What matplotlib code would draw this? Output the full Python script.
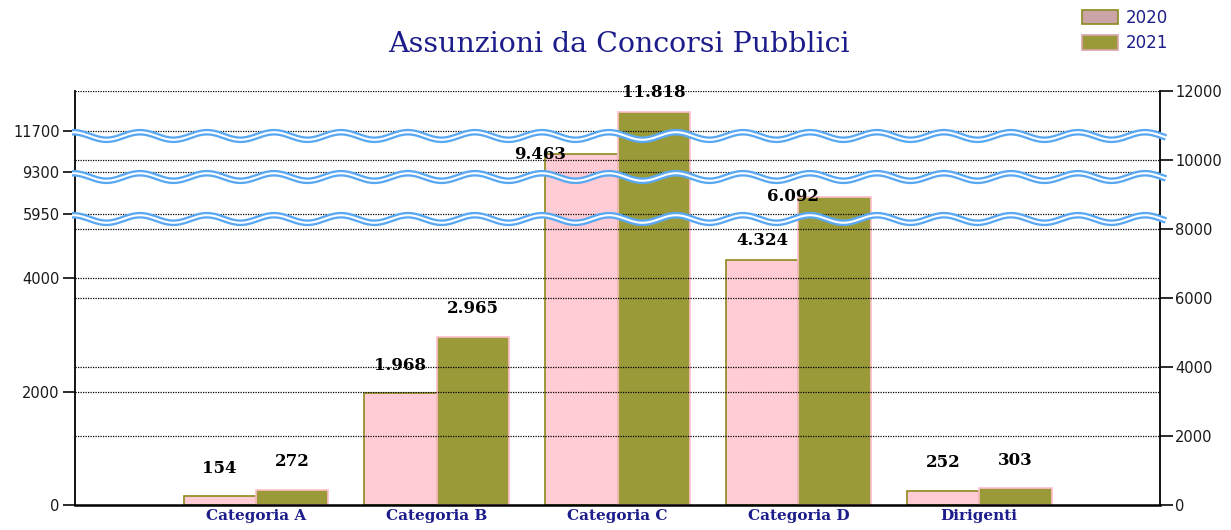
import matplotlib

matplotlib.use("Agg")
import matplotlib.pyplot as plt
import numpy as np
from matplotlib.lines import Line2D
from matplotlib.patches import Patch

# data
categories = ["Categoria A", "Categoria B", "Categoria C", "Categoria D", "Dirigenti"]
years = ["2020", "2021"]
hires_2020 = [154, 1968, 9463, 4324, 252]
hires_2021 = [272, 2965, 11818, 6092, 303]
left_ticks = [0, 2000, 4000, 5950, 9300, 11700]
right_ticks = [0, 2000, 4000, 6000, 8000, 10000, 12000]
break_ticks = [5950, 9300, 11700]

# broken left scale: value -> pixel height above the baseline
scale_vals = np.array([0, 4600, 5950, 6200, 9300, 9500, 11700, 11950], dtype=float)
scale_px = np.array([0, 261, 291, 321, 333, 355, 374, 414], dtype=float)


def fwd(v):
    return np.interp(v, scale_vals, scale_px)


def inv(p):
    return np.interp(p, scale_px, scale_vals)


W, H = 1231, 530
fig = plt.figure(figsize=(W / 100, H / 100), dpi=100)
ax = fig.add_axes([75 / W, 25 / H, 1085 / W, 414 / H])
ax.set_yscale("function", functions=(fwd, inv))
ax.set_ylim(0, 11950)
ax.set_xlim(-1, 5)

pink = "#ffccd6"
olive = "#9b9a38"
olive_edge = "#8c8a1c"
pink_edge = "#ffbfcc"
navy = "#1c1c8a"

x = np.arange(len(categories))
bw = 0.4
ax.bar(x - bw / 2, hires_2020, width=bw, color=pink, edgecolor=olive_edge, lw=1.2, zorder=2)
ax.bar(x + bw / 2, hires_2021, width=bw, color=olive, edgecolor=pink_edge, lw=1.2, zorder=2)

# right axis, plain linear
ax2 = ax.twinx()
ax2.set_ylim(0, 12000)
ax2.set_yticks(right_ticks)
ax2.set_yticklabels([str(t) for t in right_ticks])

ax.set_yticks(left_ticks)
ax.set_yticklabels([str(t) for t in left_ticks])
ax.set_xticks(x)
ax.set_xticklabels(categories)

for t in left_ticks[1:]:
    ax.axhline(t, color="black", ls=(0, (1, 1)), lw=0.9, zorder=3)
for t in right_ticks[1:]:
    ax2.axhline(t, color="black", ls=(0, (1, 1)), lw=0.9, zorder=3)

for a in (ax, ax2):
    for s in a.spines.values():
        s.set_visible(False)
ax.spines["left"].set_visible(True)
ax.spines["bottom"].set_visible(True)
ax2.spines["right"].set_visible(True)
ax.spines["left"].set_linewidth(1.3)
ax.spines["bottom"].set_linewidth(1.8)
ax2.spines["right"].set_linewidth(1.3)

ax.tick_params(axis="y", length=9, width=1.3, colors="#1a1a1a", labelsize=10.5, pad=2)
ax2.tick_params(axis="y", length=9, width=1.3, colors="#1a1a1a", labelsize=10.5, pad=2)
ax.tick_params(axis="x", length=0, pad=3)
for lab in ax.get_xticklabels():
    lab.set_fontfamily("DejaVu Serif")
    lab.set_fontweight("bold")
    lab.set_fontsize(11)
    lab.set_color(navy)

# value labels (Italian thousands separator)
def fmt(v):
    return f"{v:,}".replace(",", ".")


nudged = {("2020", 2), ("2021", 3)}
for yr, vals, sign in (("2020", hires_2020, -1), ("2021", hires_2021, 1)):
    for i, v in enumerate(vals):
        if (yr, i) in nudged:
            dx, dy = -30, 0
        else:
            dx, dy = 0, (20 if v < 4000 else 14)
        ax.annotate(fmt(v), (x[i] + sign * bw / 2, v), xytext=(dx, dy),
                    textcoords="offset points", ha="center", va="center",
                    fontfamily="DejaVu Serif", fontweight="bold", fontsize=12,
                    color="black", zorder=6)

# wavy break markers
fig.canvas.draw()
xs = np.linspace(72, 1166, 600)
for b in break_ticks:
    yc = ax.transData.transform((0, b))[1] - 5
    ys = yc + 3.8 * np.cos(2 * np.pi * (xs - 140) / 67)
    for c, lw in (("#5aa8f2", 4.8), ("white", 1.5)):
        fig.add_artist(Line2D(xs, ys, transform=None, color=c, lw=lw,
                              solid_capstyle="butt", zorder=10))

fig.text(619 / W, 1 - 44 / H, "Assunzioni da Concorsi Pubblici", ha="center", va="center",
         fontfamily="DejaVu Serif", fontsize=20.5, color=navy)

handles = [Patch(facecolor="#caa4a6", edgecolor=olive_edge, lw=1.2),
           Patch(facecolor=olive, edgecolor="#d9a4ab", lw=1.2)]
fig.legend(handles, years, loc="upper left", bbox_to_anchor=(1075 / W, 1 - 2 / H),
           frameon=False, fontsize=12, handlelength=2.2, handleheight=1.0,
           handletextpad=0.45, labelspacing=0.45, borderaxespad=0,
           labelcolor=navy)

fig.savefig("out.png", dpi=100)
